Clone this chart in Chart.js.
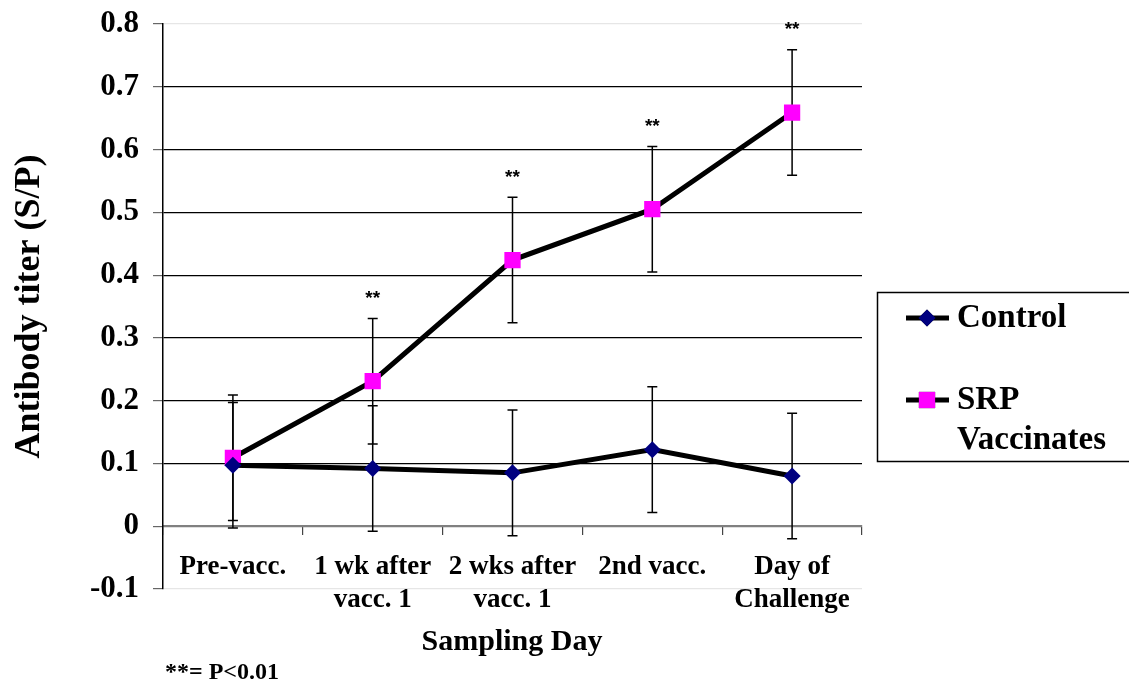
<!DOCTYPE html>
<html>
<head>
<meta charset="utf-8">
<script src="https://cdn.jsdelivr.net/npm/chart.js@4.4.0/dist/chart.umd.min.js"></script>
<style>
  body { margin: 0; background: #fff; }
  canvas { display: block; }
</style>
</head>
<body>
<canvas id="myChart" width="1129" height="686"></canvas>
<script>
// sampling days (x categories)
var days = ['Pre-vacc.', ['1 wk after', 'vacc. 1'], ['2 wks after', 'vacc. 1'], '2nd vacc.', ['Day of', 'Challenge']];

// antibody titer (S/P) means and error bar half-widths
var control = [0.097, 0.092, 0.085, 0.122, 0.080];
var controlErr = [0.1, 0.1, 0.1, 0.1, 0.1];
var srp = [0.109, 0.231, 0.424, 0.505, 0.659];
var srpErr = [0.1, 0.1, 0.1, 0.1, 0.1];
var srpSig = ['', '**', '**', '**', '**'];

var serif = '"Liberation Serif", "Times New Roman", serif';

// error bars + significance marks
var errorBars = {
  id: 'errorBars',
  beforeDatasetsDraw: function(chart) {
    var ctx = chart.ctx;
    var y = chart.scales.y;
    ctx.save();
    ctx.strokeStyle = '#000';
    ctx.lineWidth = 1.5;
    chart.data.datasets.forEach(function(ds, i) {
      var meta = chart.getDatasetMeta(i);
      ds.data.forEach(function(v, j) {
        var px = meta.data[j].x;
        var top = y.getPixelForValue(v + ds.errors[j]);
        var bot = y.getPixelForValue(v - ds.errors[j]);
        ctx.beginPath();
        ctx.moveTo(px, top); ctx.lineTo(px, bot);
        ctx.moveTo(px - 5, top); ctx.lineTo(px + 5, top);
        ctx.moveTo(px - 5, bot); ctx.lineTo(px + 5, bot);
        ctx.stroke();
        if (ds.sig && ds.sig[j]) {
          ctx.fillStyle = '#000';
          ctx.font = 'bold 19px "Liberation Sans", Arial, sans-serif';
          ctx.textAlign = 'center';
          ctx.textBaseline = 'bottom';
          ctx.fillText(ds.sig[j], px, top - 10);
        }
      });
    });
    ctx.restore();
  }
};

// axis title, footnote and boxed legend
var extras = {
  id: 'extras',
  afterDraw: function(chart) {
    var ctx = chart.ctx;
    ctx.save();
    ctx.fillStyle = '#000';
    ctx.textAlign = 'center';
    ctx.textBaseline = 'middle';
    ctx.font = 'bold 30px ' + serif;
    ctx.fillText('Sampling Day', 512, 642);
    ctx.textAlign = 'left';
    ctx.font = 'bold 24px ' + serif;
    ctx.fillText('**= P<0.01', 165, 673);

    // legend box
    ctx.strokeStyle = '#000';
    ctx.lineWidth = 1.5;
    ctx.strokeRect(877.5, 292.5, 300, 169);
    var rows = [
      { ds: 0, y: 318, lines: ['Control'] },
      { ds: 1, y: 400, lines: ['SRP', 'Vaccinates'] }
    ];
    ctx.font = 'bold 33px ' + serif;
    rows.forEach(function(r) {
      var ds = chart.data.datasets[r.ds];
      ctx.strokeStyle = '#000';
      ctx.lineWidth = 5;
      ctx.beginPath();
      ctx.moveTo(906, r.y); ctx.lineTo(949, r.y);
      ctx.stroke();
      Chart.helpers.drawPoint(ctx, {
        pointStyle: ds.pointStyle, radius: ds.pointRadius, borderWidth: 0, rotation: 0
      }, 927, r.y);
      ctx.fillStyle = ds.pointBackgroundColor;
      ctx.fill();
      ctx.fillStyle = '#000';
      r.lines.forEach(function(t, k) {
        ctx.fillText(t, 957, r.y + k * 40);
      });
    });
    ctx.restore();
  }
};

var ctx = document.getElementById('myChart').getContext('2d');
var myChart = new Chart(ctx, {
  type: 'line',
  data: {
    labels: days,
    datasets: [{
      label: 'Control',
      data: control,
      errors: controlErr,
      borderColor: '#000',
      borderWidth: 5,
      pointStyle: 'rectRot',
      pointRadius: 8.5,
      pointBackgroundColor: '#000080',
      pointBorderColor: '#000080',
      pointBorderWidth: 0,
      tension: 0
    }, {
      label: 'SRP Vaccinates',
      data: srp,
      errors: srpErr,
      sig: srpSig,
      borderColor: '#000',
      borderWidth: 5,
      pointStyle: 'rect',
      pointRadius: 11.5,
      pointBackgroundColor: '#ff00ff',
      pointBorderColor: '#ff00ff',
      pointBorderWidth: 0,
      tension: 0
    }]
  },
  options: {
    responsive: false,
    animation: false,
    layout: { padding: { left: 0, right: 267, top: 24, bottom: 97 } },
    plugins: {
      legend: { display: false },
      tooltip: { enabled: false }
    },
    scales: {
      x: {
        position: { y: 0 },
        offset: true,
        grid: {
          offset: true,
          drawOnChartArea: false,
          drawTicks: true,
          tickLength: 8,
          tickColor: '#444',
          lineWidth: 1.2
        },
        border: { color: '#808080', width: 2 },
        ticks: {
          color: '#000',
          padding: 16,
          maxRotation: 0,
          autoSkip: false,
          font: { family: serif, size: 27, weight: 'bold', lineHeight: 1.22 }
        }
      },
      y: {
        min: -0.1,
        max: 0.8,
        afterFit: function(s) {
          s.width = 163;
          s.paddingTop = 0;
          s.paddingBottom = 0;
        },
        grid: {
          color: function(c) {
            var k = Math.round(c.tick.value * 10);
            if (k === 8 || k === -1) return '#e6e6e6';
            if (k === 0) return '#808080';
            return '#000';
          },
          lineWidth: 1.2,
          tickLength: 10,
          tickColor: '#666'
        },
        border: { color: '#000', width: 1.5 },
        ticks: {
          stepSize: 0.1,
          padding: 14,
          color: '#000',
          font: { family: serif, size: 31, weight: 'bold' },
          callback: function(v) {
            var k = Math.round(v * 10);
            return k === 0 ? '0' : (k / 10).toFixed(1);
          }
        },
        title: {
          display: true,
          text: 'Antibody titer (S/P)',
          color: '#000',
          padding: { top: 8, bottom: 0 },
          font: { family: serif, size: 36, weight: 'bold' }
        }
      }
    }
  },
  plugins: [errorBars, extras]
});
</script>
</body>
</html>
